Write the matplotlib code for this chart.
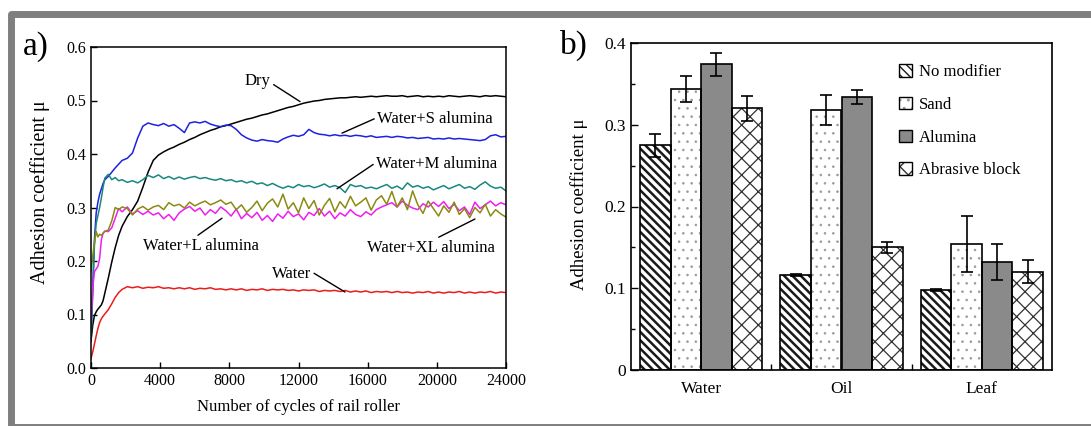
import matplotlib
matplotlib.use("Agg")
import matplotlib.pyplot as plt
from matplotlib.patches import Rectangle, Patch
from matplotlib.ticker import FormatStrFormatter, MultipleLocator, FixedLocator

plt.rcParams['font.family'] = ['Liberation Serif', 'DejaVu Serif']

# ---------------- panel a: adhesion vs. number of cycles ----------------
cycles = ([0, 100, 200, 300, 400, 500, 600, 700, 800, 1000, 1200, 1400, 1600, 1800]
          + list(range(2100, 24001, 300)))

mu_water = [0.018, 0.030, 0.045, 0.060, 0.074, 0.085, 0.092, 0.097, 0.101, 0.109, 0.120, 0.132, 0.141, 0.147,
            0.152, 0.150, 0.152, 0.149, 0.151, 0.150, 0.152, 0.149, 0.150, 0.148,
            0.150, 0.148, 0.150, 0.147, 0.149, 0.148, 0.150, 0.147, 0.148, 0.146,
            0.148, 0.146, 0.148, 0.145, 0.147, 0.146, 0.148, 0.145, 0.147, 0.146,
            0.147, 0.145, 0.146, 0.144, 0.146, 0.145, 0.146, 0.143, 0.145, 0.144,
            0.145, 0.143, 0.145, 0.142, 0.144, 0.142, 0.144, 0.141, 0.143, 0.142,
            0.143, 0.141, 0.143, 0.141, 0.142, 0.140, 0.142, 0.141, 0.143, 0.140,
            0.142, 0.140, 0.142, 0.141, 0.143, 0.140, 0.142, 0.140, 0.142, 0.141,
            0.143, 0.140, 0.142, 0.141]

mu_dry = [0.050, 0.080, 0.098, 0.105, 0.110, 0.114, 0.118, 0.126, 0.140, 0.168, 0.198, 0.225, 0.248, 0.265,
          0.283, 0.296, 0.312, 0.338, 0.366, 0.388, 0.398, 0.404, 0.409, 0.413,
          0.418, 0.422, 0.427, 0.431, 0.436, 0.440, 0.444, 0.447, 0.451, 0.453,
          0.456, 0.459, 0.462, 0.465, 0.467, 0.470, 0.473, 0.475, 0.478, 0.481,
          0.484, 0.487, 0.489, 0.492, 0.495, 0.497, 0.499, 0.500, 0.502, 0.503,
          0.504, 0.505, 0.505, 0.506, 0.507, 0.506, 0.507, 0.508, 0.507, 0.508,
          0.509, 0.508, 0.508, 0.509, 0.507, 0.508, 0.509, 0.507, 0.508, 0.507,
          0.508, 0.507, 0.509, 0.508, 0.507, 0.508, 0.509, 0.508, 0.507, 0.509,
          0.508, 0.509, 0.508, 0.507]

mu_s = [0.050, 0.150, 0.240, 0.290, 0.310, 0.325, 0.335, 0.345, 0.352, 0.358, 0.366, 0.374, 0.381, 0.388,
        0.392, 0.402, 0.430, 0.452, 0.458, 0.455, 0.453, 0.457, 0.452, 0.455,
        0.448, 0.440, 0.458, 0.460, 0.458, 0.461, 0.456, 0.453, 0.451, 0.454,
        0.453, 0.446, 0.436, 0.430, 0.426, 0.424, 0.427, 0.425, 0.424, 0.422,
        0.428, 0.432, 0.435, 0.433, 0.436, 0.446, 0.440, 0.437, 0.436, 0.434,
        0.436, 0.434, 0.435, 0.433, 0.435, 0.434, 0.432, 0.434, 0.431, 0.432,
        0.433, 0.431, 0.433, 0.432, 0.430, 0.431, 0.429, 0.430, 0.431, 0.428,
        0.429, 0.428, 0.430, 0.428, 0.429, 0.428, 0.427, 0.426, 0.425, 0.427,
        0.434, 0.436, 0.432, 0.433]

mu_m = [0.050, 0.140, 0.230, 0.270, 0.285, 0.300, 0.318, 0.338, 0.355, 0.362, 0.352, 0.356, 0.350, 0.352,
        0.347, 0.350, 0.346, 0.352, 0.360, 0.356, 0.361, 0.354, 0.358, 0.353,
        0.357, 0.353, 0.356, 0.358, 0.354, 0.356, 0.353, 0.351, 0.354, 0.350,
        0.352, 0.348, 0.350, 0.346, 0.349, 0.344, 0.346, 0.341, 0.345, 0.340,
        0.336, 0.340, 0.337, 0.343, 0.339, 0.341, 0.337, 0.340, 0.344, 0.338,
        0.341, 0.337, 0.328, 0.343, 0.339, 0.341, 0.336, 0.338, 0.335, 0.339,
        0.343, 0.336, 0.340, 0.334, 0.346, 0.338, 0.341, 0.336, 0.339, 0.333,
        0.337, 0.341, 0.335, 0.339, 0.343, 0.336, 0.339, 0.334, 0.342, 0.348,
        0.340, 0.336, 0.338, 0.331]

mu_l = [0.090, 0.150, 0.180, 0.185, 0.190, 0.205, 0.240, 0.252, 0.256, 0.255, 0.262, 0.280, 0.298, 0.292,
        0.301, 0.288, 0.294, 0.287, 0.293, 0.286, 0.290, 0.279, 0.287, 0.276,
        0.290, 0.297, 0.302, 0.293, 0.299, 0.286, 0.296, 0.289, 0.301, 0.294,
        0.284, 0.297, 0.279, 0.289, 0.281, 0.291, 0.276, 0.285, 0.274, 0.288,
        0.280, 0.293, 0.283, 0.288, 0.277, 0.291, 0.285, 0.298, 0.284, 0.293,
        0.279, 0.290, 0.284, 0.296, 0.287, 0.283, 0.292, 0.286, 0.296, 0.301,
        0.305, 0.309, 0.301, 0.312, 0.304, 0.299, 0.296, 0.307, 0.301, 0.310,
        0.302, 0.311, 0.298, 0.306, 0.294, 0.301, 0.287, 0.310, 0.298, 0.305,
        0.312, 0.303, 0.309, 0.305]

mu_xl = [0.180, 0.210, 0.235, 0.255, 0.245, 0.250, 0.248, 0.252, 0.255, 0.258, 0.275, 0.300, 0.296, 0.301,
         0.298, 0.286, 0.297, 0.302, 0.295, 0.301, 0.304, 0.296, 0.309, 0.303,
         0.306, 0.299, 0.310, 0.303, 0.308, 0.312, 0.305, 0.309, 0.314, 0.306,
         0.310, 0.296, 0.305, 0.291, 0.300, 0.312, 0.294, 0.308, 0.316, 0.301,
         0.325, 0.297, 0.309, 0.290, 0.318, 0.298, 0.313, 0.286, 0.304, 0.317,
         0.292, 0.311, 0.299, 0.321, 0.303, 0.310, 0.318, 0.295, 0.314, 0.322,
         0.306, 0.330, 0.301, 0.318, 0.296, 0.331, 0.305, 0.289, 0.312, 0.298,
         0.284, 0.303, 0.291, 0.310, 0.287, 0.298, 0.281, 0.300, 0.290, 0.306,
         0.284, 0.296, 0.288, 0.282]

# ---------------- panel b: mean adhesion by contaminant and modifier ----------------
contaminants = ["Water", "Oil", "Leaf"]
modifiers = ["No modifier", "Sand", "Alumina", "Abrasive block"]
bar_means = {
    "No modifier":    [0.275, 0.116, 0.098],
    "Sand":           [0.344, 0.318, 0.154],
    "Alumina":        [0.374, 0.334, 0.132],
    "Abrasive block": [0.320, 0.150, 0.120],
}
bar_errs = {
    "No modifier":    [0.014, 0.001, 0.001],
    "Sand":           [0.016, 0.018, 0.034],
    "Alumina":        [0.014, 0.009, 0.022],
    "Abrasive block": [0.015, 0.007, 0.014],
}

W, H = 1091, 426
fig = plt.figure(figsize=(W / 100, H / 100), dpi=100)

# grey outer frame
frame = Rectangle((10.5 / W, -0.5 / H), (1100 - 10.5) / W, (426.5 - 13.5) / H,
                  transform=fig.transFigure, fill=False, edgecolor='#7f7f7f',
                  linewidth=5.0, joinstyle='round', clip_on=False)
fig.patches.append(frame)

# ---- panel a ----
ax1 = fig.add_axes([91 / W, 1 - 368 / H, 415 / W, 321 / H])
series = [
    (mu_dry, 'black'),
    (mu_s, '#1c22e0'),
    (mu_m, '#18887e'),
    (mu_l, '#f01cf0'),
    (mu_xl, '#8a8a12'),
    (mu_water, '#ec1c1c'),
]
for vals, col in series:
    ax1.plot(cycles, vals, color=col, lw=1.1)

ax1.set_xlim(0, 24000)
ax1.set_ylim(0, 0.6)
ax1.set_xticks(range(0, 24001, 4000))
ax1.set_yticks([0.0, 0.1, 0.2, 0.3, 0.4, 0.5, 0.6])
ax1.yaxis.set_major_formatter(FormatStrFormatter('%.1f'))
ax1.tick_params(direction='in', length=4, width=1, labelsize=11.5, top=False, right=False)
for s in ax1.spines.values():
    s.set_linewidth(1.1)
ax1.set_xlabel("Number of cycles of rail roller", fontsize=12)
ax1.xaxis.set_label_coords(0.5, -0.097)
ax1.set_ylabel("Adhesion coefficient μ", fontsize=14.5)
ax1.yaxis.set_label_coords(-0.099, 0.548)

line_kw = dict(arrowstyle='-', color='black', lw=1.0, shrinkA=0, shrinkB=0)
ann_fs = 12
ax1.annotate("Dry", xy=(12087, 0.498), xytext=(8906, 0.536), fontsize=ann_fs,
             ha='left', va='center', arrowprops=dict(relpos=(1.0, 0.4), **line_kw))
ax1.annotate("Water+S alumina", xy=(14516, 0.439), xytext=(16540, 0.465), fontsize=ann_fs,
             ha='left', va='center', arrowprops=dict(relpos=(0.0, 0.6), **line_kw))
ax1.annotate("Water+M alumina", xy=(14227, 0.335), xytext=(16482, 0.381), fontsize=ann_fs,
             ha='left', va='center', arrowprops=dict(relpos=(0.0, 0.6), **line_kw))
ax1.annotate("Water+L alumina", xy=(7576, 0.280), xytext=(3007, 0.228), fontsize=ann_fs,
             ha='left', va='center', arrowprops=dict(relpos=(0.45, 1.05), **line_kw))
ax1.annotate("Water+XL alumina", xy=(22207, 0.2785), xytext=(15961, 0.2243), fontsize=ann_fs,
             ha='left', va='center', arrowprops=dict(relpos=(0.53, 1.05), **line_kw))
ax1.annotate("Water", xy=(14690, 0.142), xytext=(10468, 0.1757), fontsize=ann_fs,
             ha='left', va='center', arrowprops=dict(relpos=(1.0, 0.65), **line_kw))

fig.text(23 / W, 1 - 47 / H, "a)", fontsize=24, va='center', ha='left')

# ---- panel b ----
ax2 = fig.add_axes([631 / W, 1 - 370 / H, 421 / W, 327 / H])
xpos = [1, 2, 3]
bw = 0.2175
styles = {
    "No modifier":    dict(face='white', hatch='\\' * 4, hcolor='#1a1a1a', hlw=1.8),
    "Sand":           dict(face='white', hatch='..', hcolor='#9a9a9a', hlw=0.6),
    "Alumina":        dict(face='#8a8a8a', hatch=None, hcolor='#8a8a8a', hlw=1.0),
    "Abrasive block": dict(face='white', hatch='xx', hcolor='#333333', hlw=0.9),
}
handles = []
for i, m in enumerate(modifiers):
    st = styles[m]
    xs = [x + (i - 1.5) * bw for x in xpos]
    with plt.rc_context({'hatch.linewidth': st['hlw']}):
        ax2.bar(xs, bar_means[m], width=bw, color=st['face'], hatch=st['hatch'],
                edgecolor=st['hcolor'], linewidth=0, zorder=2)
        hp = Patch(facecolor=st['face'], hatch=st['hatch'], edgecolor=st['hcolor'], linewidth=0)
    ax2.bar(xs, bar_means[m], width=bw, fill=False, edgecolor='black', linewidth=1.2, zorder=3)
    ax2.errorbar(xs, bar_means[m], yerr=bar_errs[m], fmt='none', ecolor='black',
                 elinewidth=1.2, capsize=4, capthick=1.2, zorder=4)
    handles.append((hp, Patch(fill=False, edgecolor='black', linewidth=1.0)))

ax2.set_xlim(0.5, 3.5)
ax2.set_ylim(0, 0.4)
ax2.set_xticks(xpos)
ax2.set_xticklabels(contaminants)
ax2.xaxis.set_minor_locator(FixedLocator([1.5, 2.5]))
ax2.set_yticks([0, 0.1, 0.2, 0.3, 0.4])
ax2.set_yticklabels(['0', '0.1', '0.2', '0.3', '0.4'])
ax2.yaxis.set_minor_locator(MultipleLocator(0.05))
ax2.tick_params(axis='x', which='major', length=0, labelsize=12.5, pad=8)
ax2.tick_params(axis='x', which='minor', direction='in', length=4, width=1, top=False)
ax2.tick_params(axis='y', which='major', direction='in', length=5, width=1, labelsize=12.5, right=False)
ax2.tick_params(axis='y', which='minor', direction='in', length=3, width=1, right=False)
for s in ax2.spines.values():
    s.set_linewidth(1.2)
ax2.set_ylabel("Adhesion coefficient μ", fontsize=13.5)
ax2.yaxis.set_label_coords(-0.102, 0.506)

ax2.legend(handles, modifiers, loc='upper left', bbox_to_anchor=(0.637, 0.935),
           frameon=False, fontsize=12, handlelength=0.75, handleheight=0.75,
           handletextpad=0.45, labelspacing=1.0, borderpad=0, borderaxespad=0)

fig.text(560 / W, 1 - 45 / H, "b)", fontsize=24, va='center', ha='left')

fig.savefig("out.png", dpi=100)
